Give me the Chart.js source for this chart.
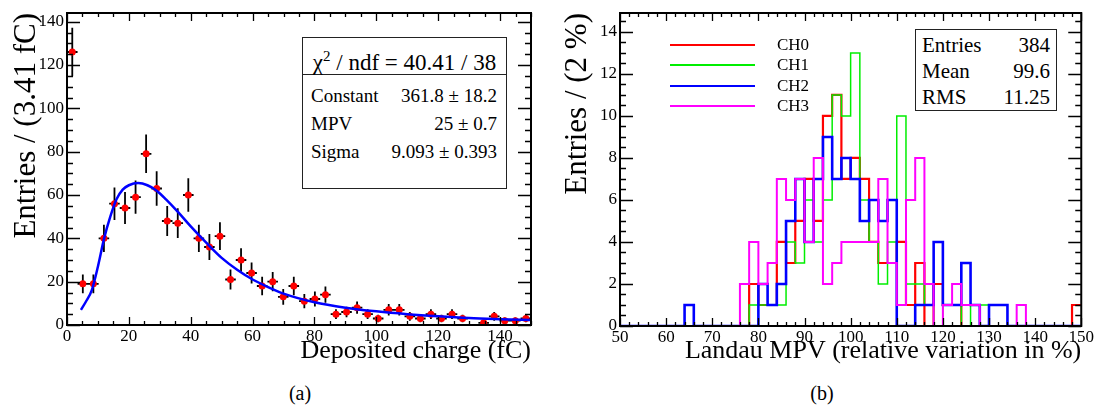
<!DOCTYPE html>
<html>
<head>
<meta charset="utf-8">
<script src="https://cdn.jsdelivr.net/npm/chart.js@4.4.0/dist/chart.umd.min.js"></script>
<style>
  body { margin: 0; background: #fff; }
  #page { position: relative; width: 1097px; height: 410px; font-family: "Liberation Serif", serif; color: #000; }
  canvas { position: absolute; top: 0; }
  #chartA { left: 0; }
  #chartB { left: 548px; }
  .box { position: absolute; border: 1.5px solid #222; background: #fff; box-sizing: border-box; }
  .row { position: absolute; left: 0; right: 0; white-space: nowrap; }
  .row .l { position: absolute; left: 8px; }
  .row .v { position: absolute; right: 9px; }
  .hdr { position: absolute; left: 0; right: 0; top: 0; height: 36px; line-height: 36px; text-align: center; font-size: 23px; border-bottom: 1.5px solid #222; }
  .leg { position: absolute; left: 670px; height: 20px; }
  .leg i { position: absolute; left: 0; top: 9px; width: 85px; height: 2px; }
  .leg span { position: absolute; left: 107px; top: 0; line-height: 20px; font-size: 17px; }
  .cap { position: absolute; top: 381px; width: 60px; text-align: center; font-size: 20px; line-height: 24px; }
</style>
</head>
<body>
<div id="page">
  <canvas id="chartA" width="548" height="370"></canvas>
  <canvas id="chartB" width="549" height="370"></canvas>
  <div class="box" id="fitBox" style="left:302px; top:37px; width:205px; height:152px;"></div>
  <div class="box" id="statBox" style="left:915px; top:29px; width:142px; height:82px;"></div>
  <div id="legend"></div>
  <div class="cap" style="left:270px;">(a)</div>
  <div class="cap" style="left:792px;">(b)</div>
</div>
<script>
// ---- panel (a): deposited charge ----
const chargeBinWidth = 3.41;
const chargeCounts = [126, 19, 19, 40, 56, 54, 59, 79, 63, 48, 47, 60, 40, 36, 41, 21, 30, 24, 18, 20,
  13, 18, 11, 12, 14, 5, 6, 8, 5, 3, 7, 7, 4, 3, 5, 3, 5, 3, 0, 1, 4, 2, 2, 3];
// landau fit curve
const fitX = [4.5, 6, 8, 10, 12, 14, 16, 18, 20, 23, 26, 29, 32, 36, 40, 45, 50, 55, 60, 65, 70, 80, 90, 100, 110, 120, 130, 140, 150];
const fitY = [7, 10.5, 16, 27, 40, 50, 58, 62.5, 64.5, 65.5, 64.5, 62, 58, 52, 45.5, 38, 31, 25.5, 21, 17.5, 14.5, 10.5, 8, 6.3, 5, 4, 3.2, 2.7, 2.3];
const chargeTicksX = [0, 20, 40, 60, 80, 100, 120, 140];
const chargeTicksY = [0, 20, 40, 60, 80, 100, 120, 140];
const fitHeader = 'χ<sup style="font-size:15px">2</sup> / ndf = 40.41 / 38';
const fitNames = ['Constant', 'MPV', 'Sigma'];
const fitValues = ['361.8 ± 18.2', '25 ± 0.7', '9.093 ± 0.393'];

// ---- panel (b): landau MPV per channel, bins of 2 % from 50 to 150 ----
const mpvLow = 50;
const mpvBin = 2;
const channels = ['CH0', 'CH1', 'CH2', 'CH3'];
const ch0 = [0,0,0,0,0,0,0,0,0,0,0,0,0,0, 2,1,1,4,3,5,7,5,10,11,7,8,7,4,3,3,4,1,3,0,2,1,1, 0,0,0,0,0,0,0,0,0,0,0,0, 1];
const ch1 = [0,0,0,0,0,0,0,0,0,0,0,0,0,0, 1,1,1,1,4,3,6,4,6,11,10,13,6,4,2,4,10,2,2,1,0,1,1,0,1,1, 0,0,0,0,0,0,0,0,0,0];
const ch2 = [0,0,0,0,0,0,0,1,0,0,0,0,0,0,0, 2,1,2,5,7,4,7,9,7,8,7,5,6,5,6,0,0,1,1,4,1,1,3,1,0,1,1, 0,0,0,0,0,0,0,0];
const ch3 = [0,0,0,0,0,0,0,0,0,0,0,0,0, 2,4,2,3,7,6,7,4,8,2,3,4,4,4,4,7,3,1,6,8,2,0,1,2,1,1, 0,0,0,0,1, 0,0,0,0,0,0];
const mpvTicksX = [50, 60, 70, 80, 90, 100, 110, 120, 130, 140, 150];
const mpvTicksY = [0, 2, 4, 6, 8, 10, 12, 14];
const statNames = ['Entries', 'Mean', 'RMS'];
const statValues = ['384', '99.6', '11.25'];

const chColors = ['#ff0000', '#00ee00', '#0000ff', '#ff00ff'];
const chWidths = [2.2, 1.5, 2.6, 2];

const serif = '"Liberation Serif", "Times New Roman", serif';
Chart.defaults.font.family = serif;
Chart.defaults.color = '#000';

// ROOT-like frame with ticks pointing inwards on all four sides
const rootFrame = {
  id: 'rootFrame',
  afterDatasetsDraw(chart, args, o) {
    const { ctx, chartArea: a, scales: { x, y } } = chart;
    ctx.save();
    ctx.strokeStyle = '#000';
    ctx.lineWidth = 1.3;
    ctx.beginPath();
    const first = (s, step) => Math.ceil(s.min / step - 1e-9) * step;
    for (let v = first(x, o.xMinor); v <= x.max + 1e-9; v += o.xMinor) {
      const p = Math.round(x.getPixelForValue(v)) + 0.5;
      const len = Math.abs(v / o.xMajor - Math.round(v / o.xMajor)) < 1e-6 ? 8 : 4;
      ctx.moveTo(p, a.bottom); ctx.lineTo(p, a.bottom - len);
      ctx.moveTo(p, a.top); ctx.lineTo(p, a.top + len);
    }
    for (let v = first(y, o.yMinor); v <= y.max + 1e-9; v += o.yMinor) {
      const p = Math.round(y.getPixelForValue(v)) + 0.5;
      const len = Math.abs(v / o.yMajor - Math.round(v / o.yMajor)) < 1e-6 ? 13 : 6;
      ctx.moveTo(a.left, p); ctx.lineTo(a.left + len, p);
      ctx.moveTo(a.right, p); ctx.lineTo(a.right - len, p);
    }
    ctx.stroke();
    ctx.lineWidth = 2;
    ctx.strokeRect(a.left, a.top, a.right - a.left, a.bottom - a.top);
    ctx.restore();
  }
};

function axis(min, max, ticks, title, titlePad, size, titleSize) {
  return {
    type: 'linear', min: min, max: max,
    grid: { display: false, drawTicks: false, tickLength: 0 }, border: { display: false },
    afterBuildTicks: s => { s.ticks = ticks.map(v => ({ value: v })); },
    afterFit: s => { if (s.isHorizontal()) s.height = size; else s.width = size; },
    ticks: { padding: 3, autoSkip: false, maxRotation: 0, color: '#000',
      font: { family: serif, size: 17, lineHeight: 1 } },
    title: { display: true, text: title, align: 'end', color: '#000',
      font: { family: serif, size: titleSize, lineHeight: 1.2 }, padding: titlePad }
  };
}

// panel (a) datasets
const errBars = [];
const markers = [];
chargeCounts.forEach((n, i) => {
  if (!n) return;
  const c = (i + 0.5) * chargeBinWidth;
  const e = Math.sqrt(n); // poisson error, as in the original histogram
  errBars.push({ x: c, y: n - e }, { x: c, y: n + e }, { x: c, y: null },
    { x: c - chargeBinWidth / 2, y: n }, { x: c + chargeBinWidth / 2, y: n }, { x: c, y: null });
  markers.push({ x: c, y: n });
});

new Chart(document.getElementById('chartA'), {
  type: 'scatter',
  data: {
    datasets: [
      { data: fitX.map((x, i) => ({ x: x, y: fitY[i] })), showLine: true, borderColor: '#0000ff',
        borderWidth: 2.5, pointRadius: 0, cubicInterpolationMode: 'monotone', order: 0 },
      { data: markers, pointRadius: 3.5, pointBackgroundColor: '#ff0000', pointBorderWidth: 0, order: 1 },
      { data: errBars, showLine: true, borderColor: '#000', borderWidth: 1.8, pointRadius: 0, spanGaps: false, order: 2 }
    ]
  },
  options: {
    responsive: false, animation: false,
    layout: { padding: { top: 13, right: 17, left: 0, bottom: 0 } },
    plugins: { legend: { display: false }, tooltip: { enabled: false },
      rootFrame: { xMajor: 20, xMinor: 5, yMajor: 20, yMinor: 5 } },
    scales: {
      x: axis(0, 150, chargeTicksX, 'Deposited charge (fC)', { bottom: 3 }, 45, 26),
      y: axis(0, 144, chargeTicksY, 'Entries / (3.41 fC)', { top: 8 }, 67, 31)
    }
  },
  plugins: [rootFrame]
});

// panel (b) datasets: step outlines from the bin edges
const mpvSets = [ch0, ch1, ch2, ch3].map((counts, c) => {
  const pts = counts.map((n, k) => ({ x: mpvLow + k * mpvBin, y: n }));
  pts.push({ x: mpvLow + counts.length * mpvBin, y: counts[counts.length - 1] });
  return { label: channels[c], data: pts, showLine: true, stepped: true, borderColor: chColors[c],
    borderWidth: chWidths[c], pointRadius: 0, order: 3 - c };
});

new Chart(document.getElementById('chartB'), {
  type: 'scatter',
  data: { datasets: mpvSets },
  options: {
    responsive: false, animation: false,
    layout: { padding: { top: 13, right: 13, left: 0, bottom: 0 } },
    plugins: { legend: { display: false }, tooltip: { enabled: false },
      rootFrame: { xMajor: 10, xMinor: 2, yMajor: 2, yMinor: 0.5 } },
    scales: {
      x: axis(50, 150, mpvTicksX, 'Landau MPV (relative variation in %)', { bottom: 3 }, 44, 26),
      y: axis(0, 14.9, mpvTicksY, 'Entries / (2 %)', { top: 11 }, 72, 31)
    }
  },
  plugins: [rootFrame]
});

// boxes and legend
const fitBox = document.getElementById('fitBox');
fitBox.innerHTML = '<div class="hdr">' + fitHeader + '</div>' +
  fitNames.map((n, i) => '<div class="row" style="top:' + (44 + 28 * i) + 'px;height:28px;line-height:28px;font-size:19px;">' +
    '<span class="l">' + n + '</span><span class="v">' + fitValues[i] + '</span></div>').join('');

const statBox = document.getElementById('statBox');
statBox.innerHTML = statNames.map((n, i) => '<div class="row" style="top:' + (2 + 26 * i) + 'px;height:26px;line-height:26px;font-size:21px;">' +
  '<span class="l" style="left:6px">' + n + '</span><span class="v" style="right:6px">' + statValues[i] + '</span></div>').join('');

document.getElementById('legend').innerHTML = channels.map((n, i) =>
  '<div class="leg" style="top:' + (35 + 20.3 * i) + 'px"><i style="background:' + chColors[i] + '"></i><span>' + n + '</span></div>').join('');
</script>
</body>
</html>
